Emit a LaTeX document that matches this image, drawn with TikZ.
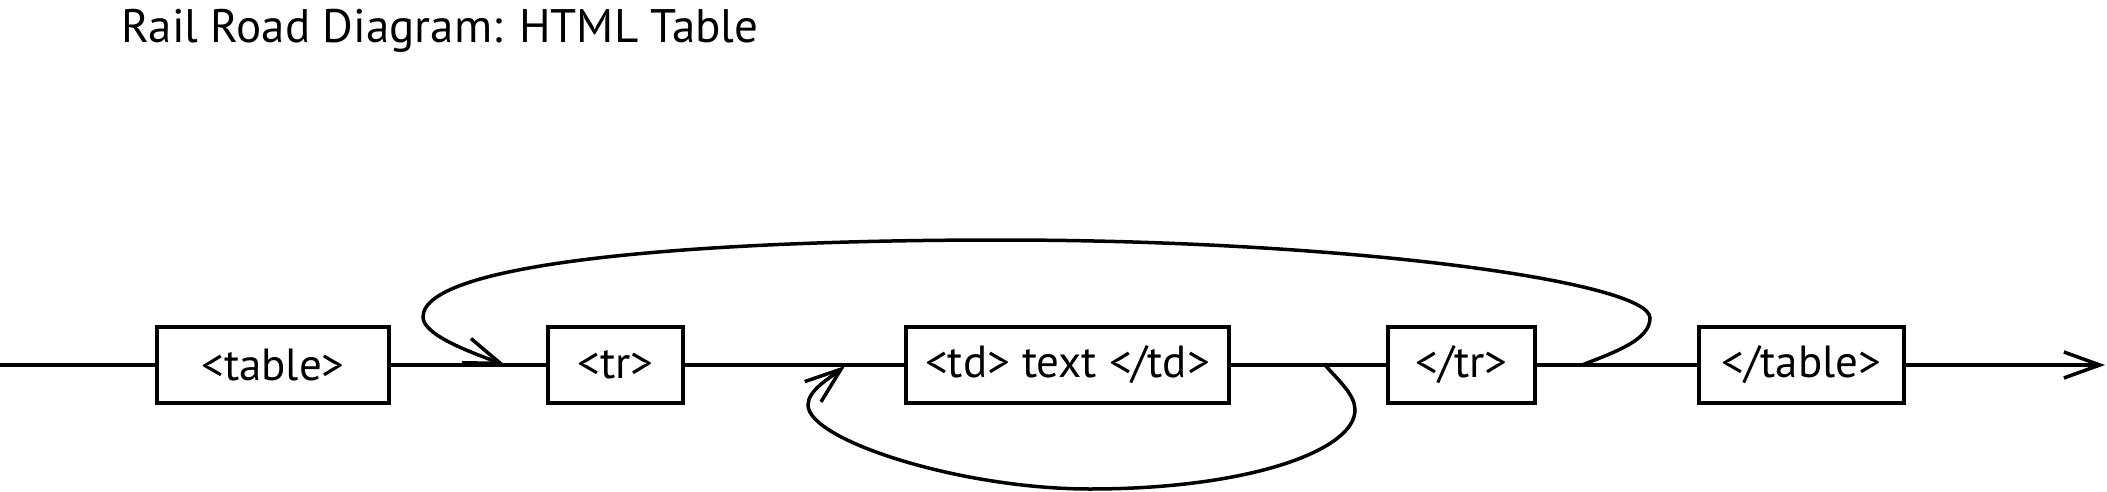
\documentclass[tikz,border=0pt]{standalone}
\usepackage{fontspec}
\setmainfont{PT Sans}
\usetikzlibrary{arrows.meta}
\begin{document}
\begin{tikzpicture}[x=1pt,y=-1pt,
  lbl/.style={draw, line width=4pt, inner sep=0pt, minimum height=76pt,
    font=\fontsize{45}{54}\selectfont, anchor=center},
  rail/.style={line width=3.5pt},
  tipend/.style={-{Straight Barb[length=36pt,width=26pt,line width=3.5pt]}},
  ttl/.style={inner sep=0pt, anchor=base west, font=\fontsize{47}{56}\selectfont}
]
\useasboundingbox (0,0) rectangle (2107,492);
\node[ttl] (title) at (121,43) {Rail Road Diagram: HTML Table};

\node[lbl, minimum width=232pt] (table) at (273,365) {<table>};
\node[lbl, minimum width=135pt] (tr) at (615.5,365) {<tr>};
\node[lbl, minimum width=323pt] (td) at (1067.5,365) {<td> text </td>};
\node[lbl, minimum width=147pt] (etr) at (1461.5,365) {</tr>};
\node[lbl, minimum width=205pt] (etable) at (1801.5,365) {</table>};

\coordinate (start) at (0,365);
\coordinate (finish) at (2105,365);
\coordinate (tls) at (1582,365);
\coordinate (tle) at (505,365);
\coordinate (bls) at (1325,365);
\coordinate (ble) at (845,366);

\draw[rail] (start) -- (table.west);
\draw[rail] (table.east) -- (tr.west);
\draw[rail] (tr.east) -- (td.west);
\draw[rail] (td.east) -- (etr.west);
\draw[rail] (etr.east) -- (etable.west);
\draw[rail, tipend] (etable.east) -- (finish);

\draw[rail, tipend] (tls)
  .. controls (1615,352) and (1650,340) .. (1650,318)
  .. controls (1650,282) and (1350,240) .. (1000,240)
  .. controls (700,240) and (423,262) .. (423,317)
  .. controls (423,335) and (470,352) .. (tle);

\draw[rail, tipend] (bls)
  .. controls (1340,382) and (1355,395) .. (1355,410)
  .. controls (1355,450) and (1250,489) .. (1090,489)
  .. controls (960,489) and (808,440) .. (808,405)
  .. controls (808,390) and (830,378) .. (ble);
\end{tikzpicture}
\end{document}
